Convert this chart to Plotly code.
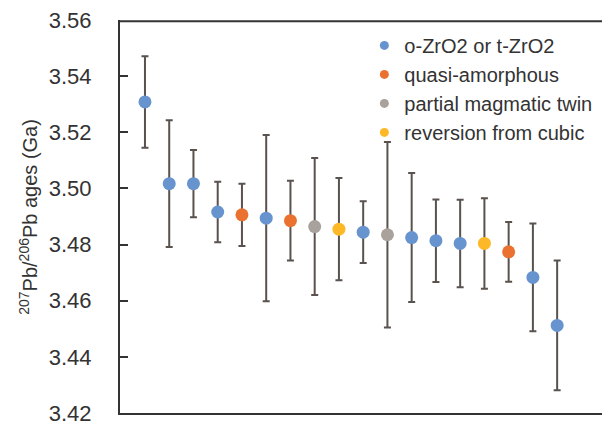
import plotly.graph_objects as go

# Data
ages = [3.5308, 3.5017, 3.5017, 3.4916, 3.4906, 3.4894, 3.4885, 3.4864, 3.4855,
        3.4844, 3.4835, 3.4825, 3.4814, 3.4804, 3.4804, 3.4774, 3.4683, 3.4512]
errors = [0.0163, 0.0226, 0.0120, 0.0108, 0.0111, 0.0296, 0.0142, 0.0244, 0.0182,
          0.0110, 0.0330, 0.0230, 0.0147, 0.0156, 0.0161, 0.0106, 0.0192, 0.0231]
groups = ["o", "o", "o", "o", "q", "o", "q", "p", "r",
          "o", "p", "o", "o", "o", "r", "q", "o", "o"]
group_names = {
    "o": "o-ZrO2 or t-ZrO2",
    "q": "quasi-amorphous",
    "p": "partial magmatic twin",
    "r": "reversion from cubic",
}
group_colors = {
    "o": "#6794CE",
    "q": "#EB7130",
    "p": "#A8A19C",
    "r": "#FDB827",
}
y_ticks = [3.42, 3.44, 3.46, 3.48, 3.50, 3.52, 3.54, 3.56]
y_tick_labels = ["3.42", "3.44", "3.46", "3.48", "3.50", "3.52", "3.54", "3.56"]

idx = list(range(1, len(ages) + 1))

fig = go.Figure()
for g in ["o", "q", "p", "r"]:
    xs = [i for i, gg in zip(idx, groups) if gg == g]
    ys = [a for a, gg in zip(ages, groups) if gg == g]
    es = [e for e, gg in zip(errors, groups) if gg == g]
    fig.add_trace(go.Scatter(
        x=xs, y=ys, mode="markers", name=group_names[g], showlegend=False,
        legendgroup=g,
        marker=dict(color=group_colors[g], size=13, line=dict(width=0)),
        error_y=dict(type="data", array=es, visible=True,
                     color="#5A524E", thickness=2, width=3.5),
    ))
# legend entries (smaller markers, as in the reference legend)
for g in ["o", "q", "p", "r"]:
    fig.add_trace(go.Scatter(
        x=[None], y=[None], mode="markers", name=group_names[g],
        legendgroup=g, showlegend=True,
        marker=dict(color=group_colors[g], size=9, line=dict(width=0)),
    ))

fig.update_layout(
    width=602, height=426,
    margin=dict(l=120, r=0, t=20, b=13, autoexpand=False),
    paper_bgcolor="white", plot_bgcolor="white",
    font=dict(family="Liberation Sans, Arial, sans-serif", color="#333333"),
    showlegend=True,
    legend=dict(x=0.507, y=0.985, xanchor="left", yanchor="top",
                bgcolor="rgba(0,0,0,0)", font=dict(size=20, color="#333333"),
                itemsizing="trace", tracegroupgap=0),
    annotations=[dict(
        text="<sup>207</sup>Pb/<sup>206</sup>Pb ages (Ga)",
        xref="paper", yref="paper", x=-0.189, y=0.499,
        xanchor="center", yanchor="middle", textangle=-90,
        showarrow=False, font=dict(size=20, color="#333333"),
    )],
    shapes=[dict(type="line", xref="paper", yref="paper",
                 x0=0, x1=1, y0=0.997, y1=0.997, layer="above",
                 line=dict(color="#333333", width=2))],
)
fig.update_xaxes(range=[-0.03, 19.85], showline=True, mirror=False,
                 linecolor="#333333", linewidth=2, showticklabels=False,
                 ticks="", showgrid=False, zeroline=False, automargin=False)
fig.update_yaxes(range=[3.42, 3.56], tickvals=y_ticks, ticktext=y_tick_labels,
                 ticks="inside", ticklen=8, tickwidth=1.5, tickcolor="#333333",
                 showline=True, linecolor="#333333", linewidth=2,
                 showgrid=False, zeroline=False, automargin=False,
                 tickfont=dict(size=22, color="#333333"),
                 ticklabelstandoff=22)

fig.write_html("out.html", config={"displayModeBar": False},
               post_script="document.body.style.margin='0';"
                           "document.body.style.overflow='hidden';")
